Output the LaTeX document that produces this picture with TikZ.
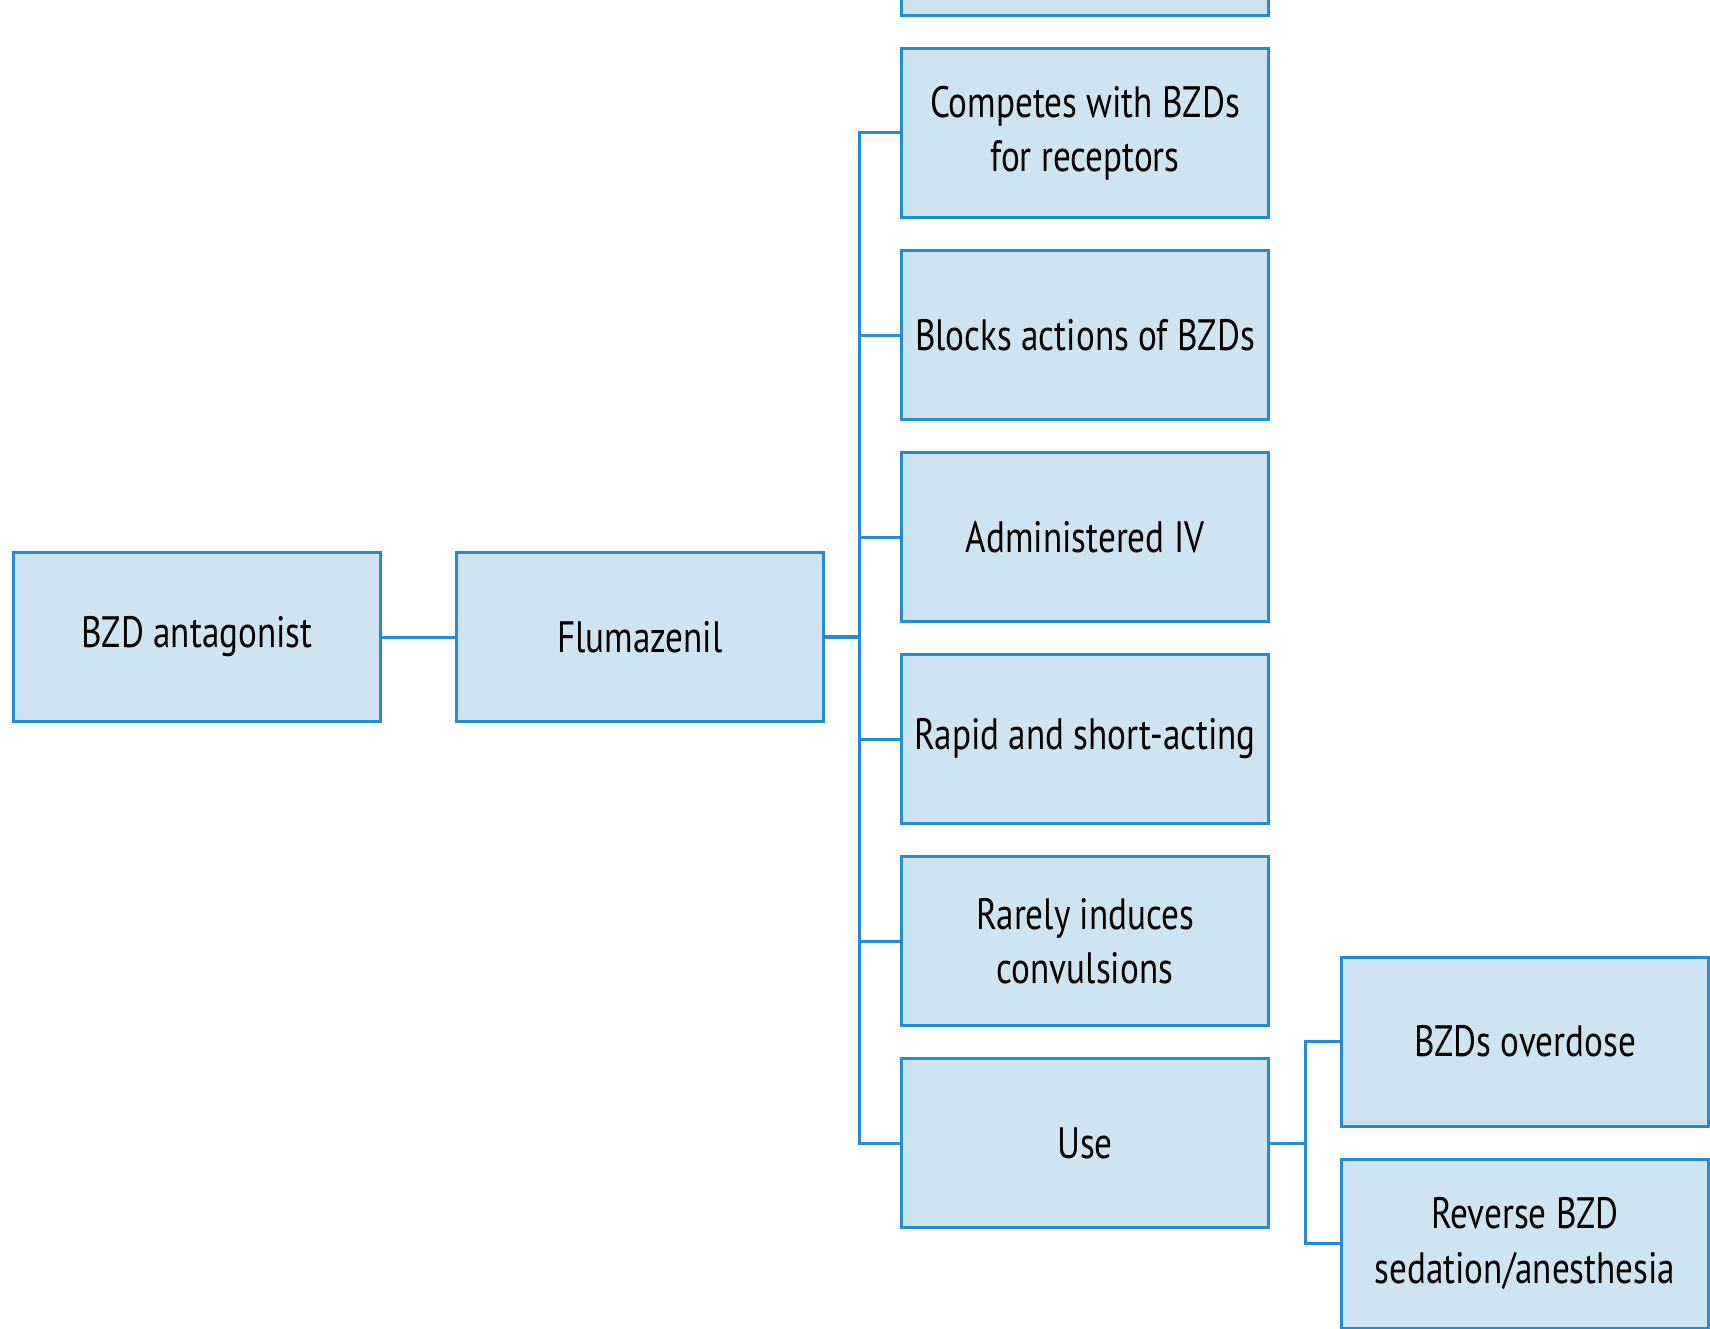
\documentclass[tikz,border=0pt]{standalone}
\usepackage{fontspec}
\setmainfont[FakeStretch=0.8]{PT Sans}
\usetikzlibrary{positioning}

\definecolor{boxfill}{RGB}{206,228,243}
\definecolor{boxline}{RGB}{36,140,210}

\begin{document}
\begin{tikzpicture}[line width=0.03cm, outer sep=0, font=\fontsize{12.5}{15.5}\selectfont]
        \tikzset{box/.style={draw=boxline, fill=boxfill, rectangle, inner xsep=0, minimum height=1.69cm, minimum width=3.67cm, align=center}}
        \useasboundingbox (0,0) rectangle (17.1,-13.28);
        % drug boxes
        \node [box] (bzd) at (1.97,-6.37) {BZD antagonist};
        \node [box, right = 0.76cm of bzd] (flum) {Flumazenil};
        \draw[boxline] (bzd) -- (flum);
        % property boxes
        \node [box] (comp) at (10.85,-1.33) {Competes with BZDs\\for receptors};
        \node [box, above = 0.33cm of comp] (prev) {};
        \node [box, below = 0.33cm of comp] (block) {Blocks actions of BZDs};
        \node [box, below = 0.33cm of block] (adm) {Administered IV};
        \node [box, below = 0.33cm of adm] (rapid) {Rapid and short-acting};
        \node [box, below = 0.33cm of rapid] (rare) {Rarely induces\\convulsions};
        \node [box, below = 0.33cm of rare] (use) {Use};
        % trunk line
        \coordinate (trunk) at ([xshift=0.36cm]flum.east);
        \draw[boxline, line width=0.045cm] (flum) -- (trunk);
        \draw[boxline] (comp.west) -| (trunk);
        \draw[boxline] (use.west) -| (trunk);
        \foreach \b in {block, adm, rapid, rare}
            \draw[boxline] (\b.west) -- (\b.west -| trunk);
        % uses
        \node [box, anchor=west] (over) at ([xshift=0.73cm, yshift=1.015cm]use.east) {BZDs overdose};
        \node [box, below = 0.33cm of over] (rev) {Reverse BZD\\sedation/anesthesia};
        \coordinate (fork) at ([xshift=0.37cm]use.east);
        \draw[boxline] (use) -- (fork);
        \draw[boxline] (over.west) -| (fork);
        \draw[boxline] (rev.west) -| (fork);
    \end{tikzpicture}
\end{document}
